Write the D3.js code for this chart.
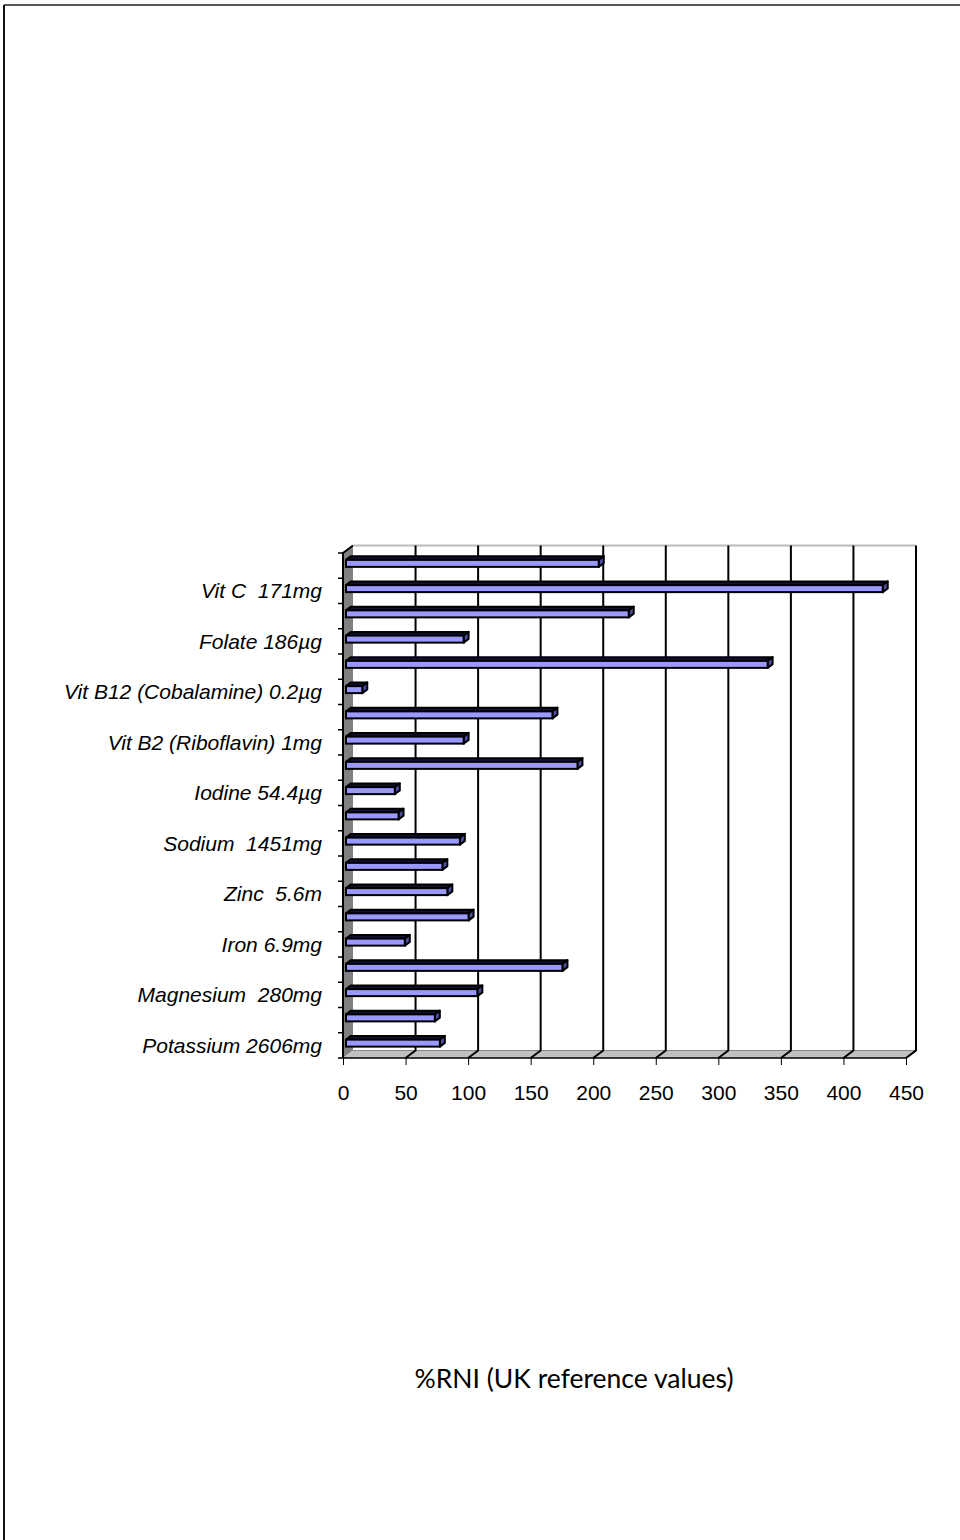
<!DOCTYPE html>
<html>
<head>
<meta charset="utf-8">
<script src="https://cdn.jsdelivr.net/npm/d3@7"></script>
<style>
  html, body { margin: 0; padding: 0; background: #fff; }
  svg { display: block; }
</style>
</head>
<body>
<div id="chart"></div>
<script>
// categories listed bottom -> top, as the chart reads them (first category sits at the bottom)
const categories = [
    "Potassium 2606mg", "Calcium", "Magnesium  280mg", "Phosphorus", "Iron 6.9mg",
    "Copper", "Zinc  5.6m", "Chloride", "Sodium  1451mg", "Selenium",
    "Iodine 54.4\u00b5g", "Vit B1 (Thiamin)", "Vit B2 (Riboflavin) 1mg", "Niacin",
    "Vit B12 (Cobalamine) 0.2\u00b5g", "Vit B6", "Folate 186\u00b5g", "Vit A",
    "Vit C  171mg", "Vit E"
];
// only every other category label is printed
const shownLabels = [
    "Potassium 2606mg", "Magnesium  280mg", "Iron 6.9mg", "Zinc  5.6m", "Sodium  1451mg",
    "Iodine 54.4\u00b5g", "Vit B2 (Riboflavin) 1mg", "Vit B12 (Cobalamine) 0.2\u00b5g",
    "Folate 186\u00b5g", "Vit C  171mg"
];
const rniValues = [75, 71, 105, 173, 47, 98, 81, 77, 91, 42, 39, 185, 94, 165, 13, 337, 94, 226, 429, 202];
const xTicks = [0, 50, 100, 150, 200, 250, 300, 350, 400, 450];
const axisTitle = "%RNI (UK reference values)";

const W = 960, H = 1540;
const DX = 10, DY = -7.5;   // depth offset front -> back
const FONT = "Arial, 'Liberation Sans', sans-serif";

const svg = d3.select("#chart").append("svg")
    .attr("width", W).attr("height", H);

// page frame (top and left edges only)
svg.append("line").attr("x1", 4).attr("x2", W).attr("y1", 5).attr("y2", 5)
    .attr("stroke", "#555").attr("stroke-width", 2);
svg.append("line").attr("x1", 4).attr("x2", 4).attr("y1", 5).attr("y2", H)
    .attr("stroke", "#111").attr("stroke-width", 2);

const x = d3.scaleLinear().domain([0, 450]).range([343, 906]);
const y = d3.scaleBand().domain(categories.slice().reverse()).range([553, 1058]);

const x0 = x(0), x1 = x(450);
const yTop = y.range()[0], yBot = y.range()[1];

const g = svg.append("g");

// left wall
g.append("path")
    .attr("d", `M${x0},${yBot}L${x0},${yTop}L${x0 + DX},${yTop + DY}L${x0 + DX},${yBot + DY}Z`)
    .attr("fill", "#808080").attr("stroke", "none");
g.append("path")
    .attr("d", `M${x0},${yBot}L${x0},${yTop}L${x0 + DX},${yTop + DY}`)
    .attr("fill", "none").attr("stroke", "#000").attr("stroke-width", 2);

// floor
g.append("path")
    .attr("d", `M${x0},${yBot}L${x0 + DX},${yBot + DY}L${x1 + DX},${yBot + DY}L${x1},${yBot}Z`)
    .attr("fill", "#c0c0c0").attr("stroke", "none");
g.append("line")
    .attr("x1", x0 + DX).attr("x2", x1 + DX).attr("y1", yBot + DY).attr("y2", yBot + DY)
    .attr("stroke", "#888").attr("stroke-width", 1);
g.append("path")
    .attr("d", `M${x0},${yBot}L${x1},${yBot}L${x1 + DX},${yBot + DY}`)
    .attr("fill", "none").attr("stroke", "#000").attr("stroke-width", 1.5);

// back wall top edge
g.append("line")
    .attr("x1", x0 + DX).attr("x2", x1 + DX).attr("y1", yTop + DY).attr("y2", yTop + DY)
    .attr("stroke", "#bbb").attr("stroke-width", 2);

// gridlines on back wall + floor
const grid = g.append("g").selectAll("g").data(xTicks.slice(1)).join("g");
grid.append("path")
    .attr("d", d => `M${x(d) + DX},${yTop + DY}L${x(d) + DX},${yBot + DY}L${x(d)},${yBot}`)
    .attr("fill", "none").attr("stroke", "#000").attr("stroke-width", 2);

// x axis ticks + labels on front edge
const xAxis = g.append("g").attr("transform", `translate(0,${yBot})`)
    .call(d3.axisBottom(x).tickValues(xTicks).tickSize(7).tickPadding(20).tickFormat(d3.format("d")));
xAxis.select(".domain").remove();
xAxis.selectAll("line").attr("stroke", "#000").attr("stroke-width", 1);
xAxis.selectAll("text")
    .attr("font-family", FONT)
    .attr("font-size", 21).attr("fill", "#000");

// y ticks at band boundaries
const yBounds = categories.slice().reverse().map(c => y(c)).concat([yBot]);
g.append("g").selectAll("line").data(yBounds).join("line")
    .attr("x1", x0 - 5).attr("x2", x0).attr("y1", d => d).attr("y2", d => d)
    .attr("stroke", "#000").attr("stroke-width", 1.5);

// category labels
g.append("g").selectAll("text").data(shownLabels).join("text")
    .attr("x", 322)
    .attr("y", d => y(d) + y.bandwidth() / 2)
    .attr("dy", "0.36em")
    .attr("text-anchor", "end")
    .attr("font-family", FONT)
    .attr("font-style", "italic")
    .attr("font-size", 21)
    .attr("fill", "#000")
    .style("white-space", "pre")
    .text(d => d);

// 3D bars
const z0 = 0.25, z1 = 0.75, faceH = 7;
const bars = g.append("g").selectAll("g")
    .data(categories.map((c, i) => ({ cat: c, v: rniValues[i] })))
    .join("g");

const geom = d => {
    const yc = y(d.cat) + y.bandwidth() / 2;
    const fy0 = yc - faceH / 2 + 0.3 * DY, fy1 = fy0 + faceH;
    const fx0 = x(0) + 0.3 * DX, fx1 = x(d.v) + 0.3 * DX;
    const ddx = (z1 - z0) * DX, ddy = (z1 - z0) * DY;
    return { fy0, fy1, fx0, fx1, ddx, ddy };
};

bars.append("path") // top face
    .attr("d", d => {
        const q = geom(d);
        return `M${q.fx0},${q.fy0}L${q.fx0 + q.ddx},${q.fy0 + q.ddy}L${q.fx1 + q.ddx},${q.fy0 + q.ddy}L${q.fx1},${q.fy0}Z`;
    })
    .attr("fill", "#111133").attr("stroke", "#000").attr("stroke-width", 2)
    .attr("stroke-linejoin", "round");

bars.append("path") // end face
    .attr("d", d => {
        const q = geom(d);
        return `M${q.fx1},${q.fy0}L${q.fx1 + q.ddx},${q.fy0 + q.ddy}L${q.fx1 + q.ddx},${q.fy1 + q.ddy}L${q.fx1},${q.fy1}Z`;
    })
    .attr("fill", "#4d4da6").attr("stroke", "#000").attr("stroke-width", 2)
    .attr("stroke-linejoin", "round");

bars.append("rect") // front face
    .attr("x", d => geom(d).fx0)
    .attr("y", d => geom(d).fy0)
    .attr("width", d => geom(d).fx1 - geom(d).fx0)
    .attr("height", faceH)
    .attr("fill", "#9999ff").attr("stroke", "#000").attr("stroke-width", 2);

// axis title
svg.append("text")
    .attr("x", 574).attr("y", 1388)
    .attr("text-anchor", "middle")
    .attr("font-family", "Lato, 'Open Sans', sans-serif")
    .attr("font-size", 26.5)
    .attr("fill", "#000")
    .text(axisTitle);
</script>
</body>
</html>
